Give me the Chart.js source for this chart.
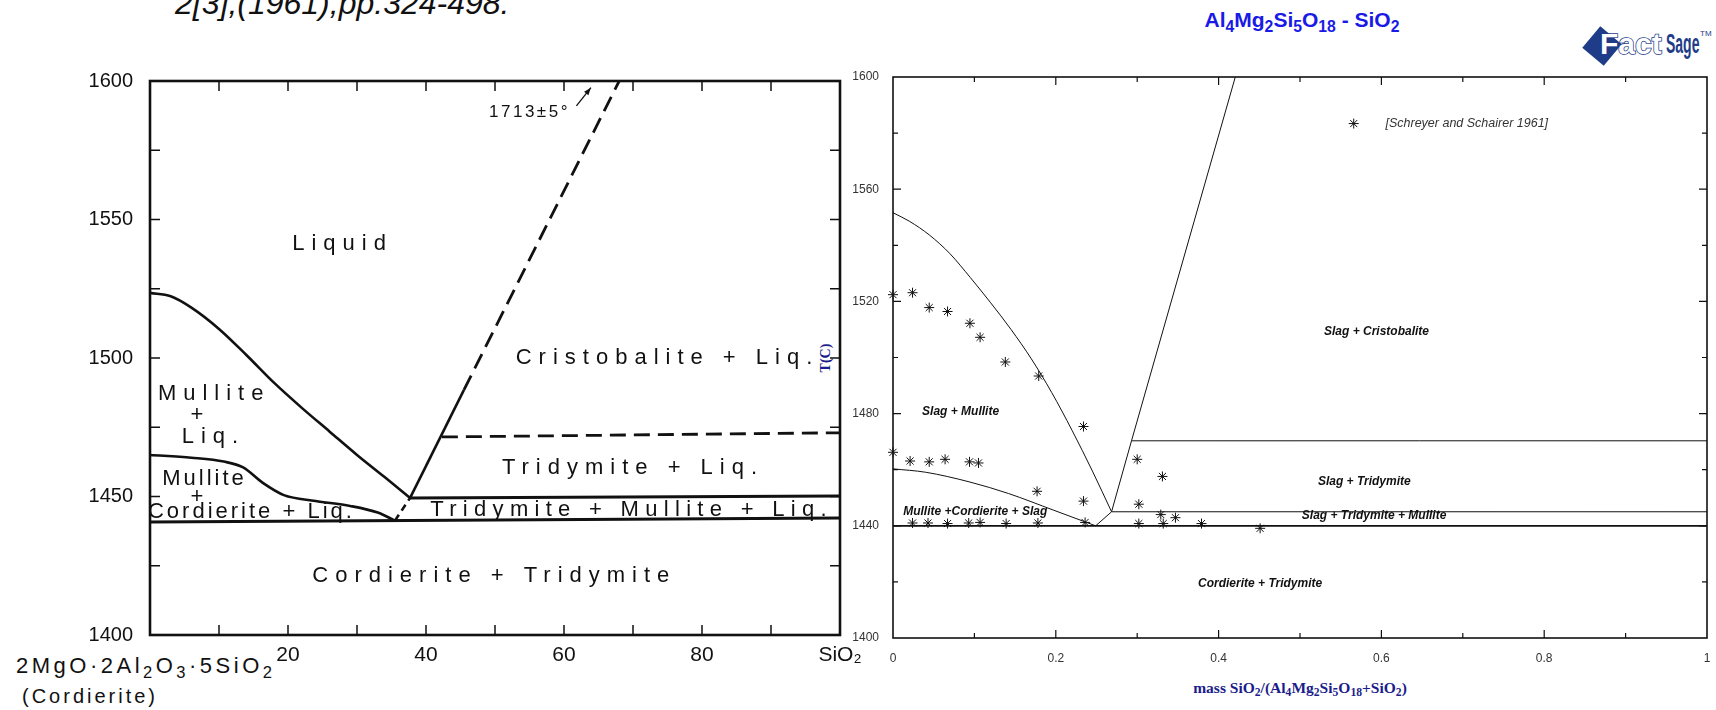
<!DOCTYPE html>
<html>
<head>
<meta charset="utf-8">
<script src="https://cdn.jsdelivr.net/npm/chart.js@4.4.0/dist/chart.umd.min.js"></script>
<style>
  body { margin:0; background:#fff; width:1716px; height:710px; overflow:hidden; position:relative; font-family:'Liberation Sans', Arial, sans-serif; }
  canvas { position:absolute; left:0; top:0; }
  .t { position:absolute; white-space:nowrap; line-height:1; }
  .t sub { font-size:75%; vertical-align:-0.3em; line-height:0; }
  #ref { left:175px; top:-13px; font-size:32px; font-style:italic; color:#111; }
  #cmp { left:16px; top:655px; font-size:22px; letter-spacing:3.5px; color:#111; }
  #cord { left:22px; top:686px; font-size:20px; letter-spacing:3px; color:#111; }
  #title { left:1302px; top:9px; transform:translateX(-50%); font-size:21px; font-weight:bold; color:#1a1ae6; }
  #ytitle { left:826px; top:358px; transform:translate(-50%,-50%) rotate(-90deg); font-family:'Liberation Serif', serif; font-weight:bold; font-size:14px; color:#1c1c8c; }
  #xtitle { left:1300px; top:680px; transform:translateX(-50%); font-family:'Liberation Serif', serif; font-weight:bold; font-size:15.5px; color:#1c1c8c; }
  #logo { left:1583px; top:24px; width:130px; height:42px; }
  #logo .dia { position:absolute; left:5px; top:8px; width:28px; height:28px; background:#1f3c88; transform:rotate(40deg); }
  #logo .fact { position:absolute; left:17px; top:5px; font-size:30px; font-weight:bold; color:#fff; -webkit-text-stroke:1.5px #1f3c88; paint-order:stroke fill; }
  #logo .sage { position:absolute; left:83px; top:6px; font-size:28px; font-weight:bold; color:#1f3c88; transform:scaleX(0.5); transform-origin:left; }
  #logo .tm { position:absolute; left:117px; top:6px; font-size:8px; color:#1f3c88; }
</style>
</head>
<body>
<div class="t" id="ref">2[3],(1961),pp.324-498.</div>
<div class="t" id="cmp">2MgO·2Al<sub>2</sub>O<sub>3</sub>·5SiO<sub>2</sub></div>
<div class="t" id="cord">(Cordierite)</div>
<div class="t" id="title">Al<sub>4</sub>Mg<sub>2</sub>Si<sub>5</sub>O<sub>18</sub> - SiO<sub>2</sub></div>
<div class="t" id="ytitle">T(C)</div>
<div class="t" id="xtitle">mass SiO<sub>2</sub>/(Al<sub>4</sub>Mg<sub>2</sub>Si<sub>5</sub>O<sub>18</sub>+SiO<sub>2</sub>)</div>
<div class="t" id="logo"><div class="dia"></div><div class="fact">Fact</div><div class="sage">Sage</div><div class="tm">TM</div></div>
<canvas id="leftChart" width="1716" height="710"></canvas>
<canvas id="rightChart" width="1716" height="710"></canvas>
<script>
// ---- left diagram (wt% SiO2 vs T, Schreyer & Schairer) ----
var leftMulliteLiq = [[0,1523.5],[3,1522.3],[6,1518.2],[10,1510.5],[14,1501],[18,1491],[22,1482],[26,1473.5],[30,1465],[34,1457],[37.7,1449.5]];
var leftMullCordLiq = [[0,1465],[6,1464],[10.7,1462.6],[13.5,1460.5],[16.3,1455],[19.4,1450.5],[24,1448.4],[29,1446.6],[33,1444.2],[35.5,1441.3]];
var leftEutDash = [[35.5,1441.3],[37.7,1449.5]];
var leftSilicaSolid = [[37.7,1449.5],[45.5,1488.5]];
var leftSilicaDash = [[45.5,1488.5],[68,1600]];
var leftTridDash = [[42.3,1471.5],[100,1473]];
var leftTridMull = [[37.7,1449.5],[100,1450.2]];
var leftCordTrid = [[0,1440.8],[100,1442.2]];
var leftArrow = [[61.8,1591],[63.9,1597.6]];
var leftLabels = [
  ['Liquid', 27.9, 1541],
  ['Cristobalite + Liq.', 75, 1500],
  ['Mullite', 9.3, 1487], ['+', 7.3, 1479.5], ['Liq.', 9.2, 1471.5],
  ['Tridymite + Liq.', 70, 1460.4],
  ['Cordierite + Tridymite', 49.9, 1421.3]
];
var leftTightLabels = [
  ['Mullite', 7.9, 1456.5], ['+', 7, 1450], ['Cordierite + Liq.', 14.7, 1444.6]
];
var leftBandLabel = [['Tridymite + Mullite + Liq.', 69.8, 1445.3]];
var leftNote = ['1713±5°', 55, 1588.6];

// ---- right diagram (FactSage, mass fraction SiO2) ----
var rightMulliteLiq = [[0,1551.6],[0.02,1548.6],[0.045,1543.6],[0.07,1537],[0.095,1528.5],[0.12,1519.5],[0.145,1510],[0.17,1499.5],[0.195,1487.5],[0.22,1474],[0.245,1459.5],[0.2685,1445]];
var rightMullCordSlag = [[0,1460.3],[0.04,1459.1],[0.0945,1455.6],[0.142,1451.5],[0.197,1445.6],[0.249,1440]];
var rightEutV = [[0.249,1440],[0.2685,1445]];
var rightSilicaLiq = [[0.2685,1445],[0.293,1470.3],[0.4205,1600]];
var rightTridLine = [[0.293,1470.3],[1,1470.3]];
var rightTridMullLine = [[0.2685,1445],[1,1445]];
var rightCordLine = [[0,1440],[1,1440]];
var rightExpX = [0,0.024,0.0445,0.067,0.0945,0.107,0.138,0.179,0.234,
  0,0.021,0.0445,0.064,0.094,0.105,0.177,0.234,0.236,
  0.300,0.331,0.302,0.329,0.347,
  0.024,0.043,0.067,0.093,0.107,0.139,0.178,0.302,0.332,0.379,0.451];
var rightExpT = [1522.4,1523.1,1517.8,1516.4,1512.2,1507.2,1498.4,1493.4,1475.4,
  1466.2,1463.1,1462.8,1463.7,1462.8,1462.4,1452.3,1448.8,1441.2,
  1463.7,1457.6,1447.7,1444,1442.9,
  1441,1441,1440.8,1441,1441.2,1440.8,1441,1440.8,1440.8,1440.8,1439.1];
var rightLegend = ['[Schreyer and Schairer 1961]', 0.566, 1583.4];
var rightLabels = [
  ['Slag + Cristobalite', 0.594, 1509.3],
  ['Slag + Mullite', 0.083, 1480.8],
  ['Slag + Tridymite', 0.579, 1455.6],
  ['Mullite +Cordierite + Slag', 0.101, 1445],
  ['Slag + Tridymite + Mullite', 0.591, 1443.5],
  ['Cordierite + Tridymite', 0.451, 1419.5]
];

function pts(a) { return a.map(function(p){ return {x:p[0], y:p[1]}; }); }
function line(a, w, dash, curved) {
  return { data: pts(a), showLine: true, pointRadius: 0, borderColor: '#111', borderWidth: w, borderDash: dash || [],
    fill: false, cubicInterpolationMode: curved ? 'monotone' : 'default', tension: 0 };
}

// frame with inward ticks, drawn from the scales
var frameTicks = {
  id: 'frameTicks',
  afterDatasetsDraw: function(chart, args, o) {
    var ctx = chart.ctx, a = chart.chartArea, sx = chart.scales.x, sy = chart.scales.y;
    ctx.save();
    ctx.strokeStyle = o.color;
    ctx.lineWidth = o.tickWidth;
    ctx.beginPath();
    o.xTicks.forEach(function(t) {
      var px = sx.getPixelForValue(t[0]);
      ctx.moveTo(px, a.top); ctx.lineTo(px, a.top + t[1]);
      ctx.moveTo(px, a.bottom); ctx.lineTo(px, a.bottom - t[1]);
    });
    o.yTicks.forEach(function(t) {
      var py = sy.getPixelForValue(t[0]);
      ctx.moveTo(a.left, py); ctx.lineTo(a.left + t[1], py);
      ctx.moveTo(a.right, py); ctx.lineTo(a.right - t[1], py);
    });
    ctx.stroke();
    ctx.lineWidth = o.frameWidth;
    ctx.strokeRect(a.left, a.top, a.right - a.left, a.bottom - a.top);
    ctx.restore();
  }
};

var textLabels = {
  id: 'textLabels',
  afterDatasetsDraw: function(chart, args, o) {
    var ctx = chart.ctx, sx = chart.scales.x, sy = chart.scales.y;
    ctx.save();
    o.groups.forEach(function(g) {
      ctx.font = g.font;
      ctx.fillStyle = g.color;
      ctx.letterSpacing = g.spacing || '0px';
      ctx.textAlign = g.align || 'center';
      ctx.textBaseline = 'middle';
      g.items.forEach(function(l) {
        ctx.fillText(l[0], sx.getPixelForValue(l[1]), sy.getPixelForValue(l[2]));
      });
    });
    if (o.arrow) {
      var p0x = sx.getPixelForValue(o.arrow[0][0]), p0y = sy.getPixelForValue(o.arrow[0][1]);
      var p1x = sx.getPixelForValue(o.arrow[1][0]), p1y = sy.getPixelForValue(o.arrow[1][1]);
      var ang = Math.atan2(p1y - p0y, p1x - p0x);
      ctx.strokeStyle = '#111'; ctx.fillStyle = '#111'; ctx.lineWidth = 1.3;
      ctx.beginPath(); ctx.moveTo(p0x, p0y); ctx.lineTo(p1x, p1y); ctx.stroke();
      ctx.beginPath();
      ctx.moveTo(p1x, p1y);
      ctx.lineTo(p1x - 8 * Math.cos(ang - 0.35), p1y - 8 * Math.sin(ang - 0.35));
      ctx.lineTo(p1x - 8 * Math.cos(ang + 0.35), p1y - 8 * Math.sin(ang + 0.35));
      ctx.closePath(); ctx.fill();
    }
    ctx.restore();
  }
};

function fixW(w) { return function(s) { s.width = w; s.paddingTop = 0; s.paddingBottom = 0; }; }
function fixH(h) { return function(s) { s.height = h; s.paddingLeft = 0; s.paddingRight = 0; }; }
function plain(v) { return String(Math.round(v * 10) / 10); }

var leftXT = [], leftYT = [], rightXT = [], rightYT = [];
for (var i = 10; i < 100; i += 10) leftXT.push([i, 10]);
for (var j = 1425; j < 1600; j += 25) leftYT.push([j, 10]);
for (var k = 1; k < 10; k++) rightXT.push([k / 10, k % 2 ? 5 : 8]);
for (var m = 1420; m < 1600; m += 20) rightYT.push([m, (m - 1400) % 40 ? 5 : 8]);

new Chart(document.getElementById('leftChart'), {
  type: 'scatter',
  data: { datasets: [
    line(leftMulliteLiq, 2.6, null, true),
    line(leftMullCordLiq, 2.6, null, true),
    line(leftEutDash, 2.6, [7, 5]),
    line(leftSilicaSolid, 2.6),
    line(leftSilicaDash, 2.8, [16, 8]),
    line(leftTridDash, 2.8, [16, 8]),
    line(leftTridMull, 3),
    line(leftCordTrid, 3)
  ]},
  options: {
    responsive: false, animation: false, events: [],
    layout: { padding: { left: 0, right: 876, top: 81, bottom: 0 } },
    plugins: {
      legend: { display: false }, tooltip: { enabled: false },
      frameTicks: { color: '#111', tickWidth: 1.5, frameWidth: 2.6, xTicks: leftXT, yTicks: leftYT },
      textLabels: {
        groups: [
          { font: '22px "Liberation Sans"', color: '#111', spacing: '7px', items: leftLabels },
          { font: '22px "Liberation Sans"', color: '#111', spacing: '6.3px', items: leftBandLabel },
          { font: '22px "Liberation Sans"', color: '#111', spacing: '3px', items: leftTightLabels },
          { font: '17px "Liberation Sans"', color: '#111', spacing: '2.5px', items: [leftNote] }
        ],
        arrow: leftArrow
      }
    },
    scales: {
      x: { type: 'linear', min: 0, max: 100, afterFit: fixH(75),
        grid: { display: false, drawTicks: false }, border: { display: false },
        ticks: { stepSize: 20, padding: 8, color: '#111', font: { family: 'Liberation Sans', size: 21 },
          callback: function(v) { return v === 0 ? '' : (v === 100 ? 'SiO₂' : plain(v)); } } },
      y: { type: 'linear', min: 1400, max: 1600, afterFit: fixW(150),
        grid: { display: false, drawTicks: false }, border: { display: false },
        ticks: { stepSize: 50, padding: 17, color: '#111', font: { family: 'Liberation Sans', size: 20 }, callback: plain } }
    }
  },
  plugins: [frameTicks, textLabels]
});

var starData = rightExpX.map(function(x, i) { return {x: x, y: rightExpT[i]}; });

new Chart(document.getElementById('rightChart'), {
  type: 'scatter',
  data: { datasets: [
    line(rightMulliteLiq, 1, null, true),
    line(rightMullCordSlag, 1, null, true),
    line(rightEutV, 1),
    line(rightSilicaLiq, 1),
    line(rightTridLine, 1),
    line(rightTridMullLine, 1),
    line(rightCordLine, 1.8),
    { data: starData, pointStyle: 'star', pointRadius: 5, borderColor: '#111', borderWidth: 1, showLine: false, clip: false },
    { data: [{x: rightLegend[1], y: rightLegend[2]}], pointStyle: 'star', pointRadius: 5, borderColor: '#111', borderWidth: 1, showLine: false, clip: false }
  ]},
  options: {
    responsive: false, animation: false, events: [],
    layout: { padding: { left: 843, right: 9, top: 77, bottom: 0 } },
    plugins: {
      legend: { display: false }, tooltip: { enabled: false },
      frameTicks: { color: '#111', tickWidth: 1.2, frameWidth: 1.6, xTicks: rightXT, yTicks: rightYT },
      textLabels: {
        groups: [
          { font: 'italic bold 12px "Liberation Sans"', color: '#111', items: rightLabels },
          { font: 'italic 12.5px "Liberation Sans"', color: '#333', align: 'left', items: [[rightLegend[0], rightLegend[1] + 0.039, rightLegend[2]]] }
        ]
      }
    },
    scales: {
      x: { type: 'linear', min: 0, max: 1, afterFit: fixH(72),
        grid: { display: false, drawTicks: false }, border: { display: false },
        ticks: { stepSize: 0.2, padding: 13, color: '#333', font: { family: 'Liberation Sans', size: 12 }, callback: plain } },
      y: { type: 'linear', min: 1400, max: 1600, afterFit: fixW(50),
        grid: { display: false, drawTicks: false }, border: { display: false },
        ticks: { stepSize: 40, padding: 14, color: '#333', font: { family: 'Liberation Sans', size: 12 }, callback: plain } }
    }
  },
  plugins: [frameTicks, textLabels]
});
</script>
</body>
</html>
